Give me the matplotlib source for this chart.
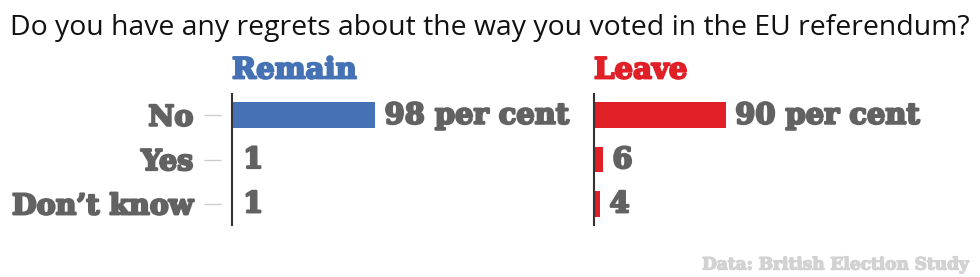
import matplotlib
matplotlib.use("Agg")
import matplotlib.pyplot as plt
import matplotlib.patheffects as pe

title = "Do you have any regrets about the way you voted in the EU referendum?"
categories = ["No", "Yes", "Don\u2019t know"]
remain_values = [98, 1, 1]
leave_values = [90, 6, 4]
remain_labels = ["98 per cent", "1", "1"]
leave_labels = ["90 per cent", "6", "4"]
source = "Data: British Election Study"

W, H = 980, 277
fig = plt.figure(figsize=(W / 100, H / 100), dpi=100)

SLAB = ["DejaVu Serif"]
GREY = "#626262"
BLUE = "#4472b4"
RED = "#e01f27"


def heavy(color, lw=1.6):
    return [pe.withStroke(linewidth=lw, foreground=color)]


fig.text(10 / W, 1 - 28 / H, title, fontsize=20.4, family=["Open Sans", "DejaVu Sans"],
         color="#111111", va="center", ha="left")

top, bot = 93, 226
ax1 = fig.add_axes([221 / W, 1 - bot / H, 361 / W, (bot - top) / H])
ax2 = fig.add_axes([583 / W, 1 - bot / H, 391 / W, (bot - top) / H])

for ax, vals, labs, col, head, xmax in [
    (ax1, remain_values, remain_labels, BLUE, "Remain", 240),
    (ax2, leave_values, leave_labels, RED, "Leave", 260),
]:
    y = list(range(len(categories)))
    ax.barh(y, vals, height=0.58, color=col)
    ax.set_xlim(-7.5, xmax)
    ax.set_ylim(2.5, -0.5)
    for s in ax.spines.values():
        s.set_visible(False)
    ax.axvline(0, color="#333333", lw=1.5)
    ax.set_xticks([])
    for yi, v, t in zip(y, vals, labs):
        ax.annotate(t, (v, yi), xytext=(7, 0), textcoords="offset points",
                    va="center", ha="left", fontsize=20.8, fontweight="bold",
                    family=SLAB, color=GREY, path_effects=heavy(GREY))
    ax.text(0, 1.11, head, transform=ax.get_xaxis_transform(), fontsize=21,
            fontweight="bold", family=SLAB, color=col, ha="left", va="baseline",
            path_effects=heavy(col, 1.5))

ax1.set_yticks(range(len(categories)))
ax1.set_yticklabels(categories, fontsize=20.5, fontweight="bold", family=SLAB, color=GREY)
for lab in ax1.get_yticklabels():
    lab.set_path_effects(heavy(GREY))
ax1.tick_params(axis="y", length=12, color="#cccccc", pad=8, width=1)
ax2.set_yticks([])

fig.text(968 / W, 1 - 265 / H, source, fontsize=12.2, fontweight="bold", family=SLAB,
         color="#d2d2d2", ha="right", va="center", path_effects=heavy("#d2d2d2", 1.0))

fig.savefig("out.png", dpi=100)
